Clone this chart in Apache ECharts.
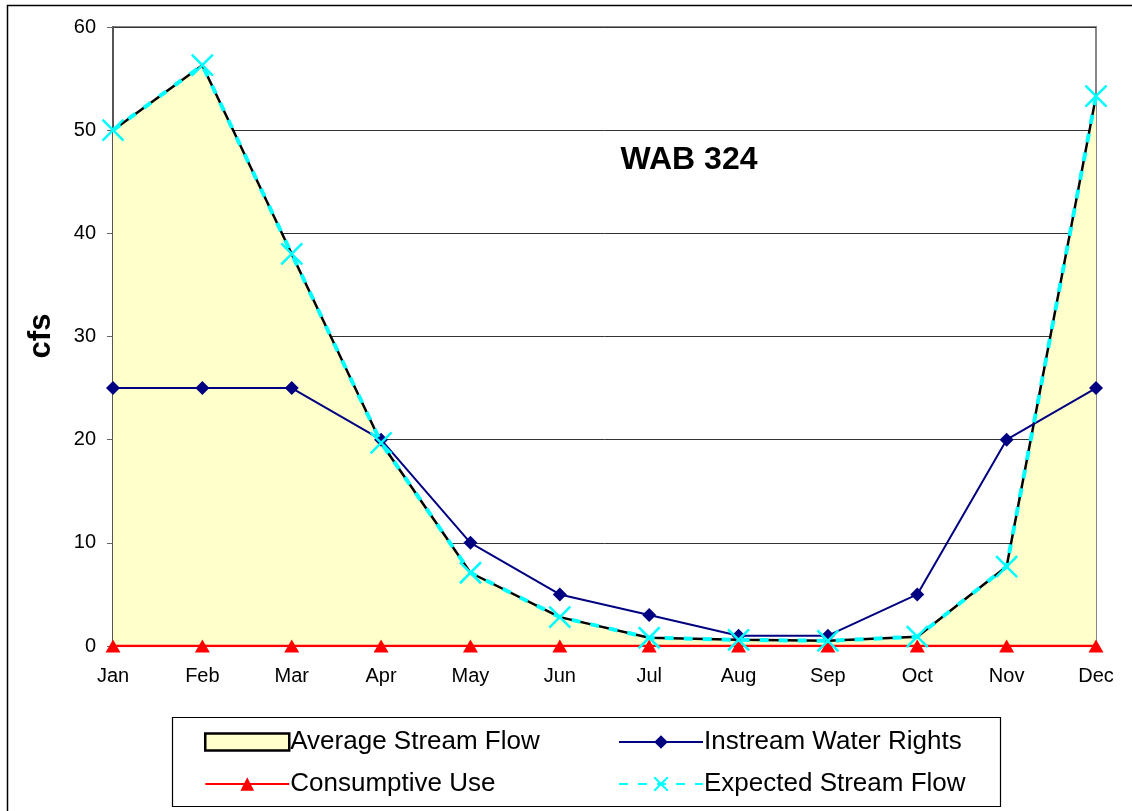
<!DOCTYPE html>
<html>
<head>
<meta charset="utf-8">
<script src="https://cdn.jsdelivr.net/npm/echarts@6/dist/echarts.min.js"></script>
<style>
  html, body { margin: 0; padding: 0; background: #fff; }
  #chart { width: 1132px; height: 811px; }
</style>
</head>
<body>
<div id="chart"></div>
<script>
// Monthly flows for WAB 324 (cfs)
const months = ['Jan', 'Feb', 'Mar', 'Apr', 'May', 'Jun', 'Jul', 'Aug', 'Sep', 'Oct', 'Nov', 'Dec'];
const averageStreamFlow = [50.0, 56.3, 38.0, 19.7, 7.1, 2.8, 0.8, 0.6, 0.5, 0.9, 7.7, 53.3];
const instreamWaterRights = [25, 25, 25, 20, 10, 5, 3, 1, 1, 5, 20, 25];
const consumptiveUse = [0, 0, 0, 0, 0, 0, 0, 0, 0, 0, 0, 0];
const expectedStreamFlow = [50.0, 56.3, 38.0, 19.7, 7.1, 2.8, 0.8, 0.6, 0.5, 0.9, 7.7, 53.3];
const yTicks = { min: 0, max: 60, interval: 10 };

const FONT = 'Liberation Sans, Arial, sans-serif';
const crossSymbol = 'path://M0,0L10,10M10,0L0,10';

const chart = echarts.init(document.getElementById('chart'));

const legendText = { fontFamily: FONT, fontSize: 26, color: '#000', padding: [0, 0, 0, -4] };

chart.setOption({
  backgroundColor: '#ffffff',
  animation: false,
  textStyle: { fontFamily: FONT },
  title: {
    text: 'WAB 324',
    left: 684,
    top: 139,
    textAlign: 'center',
    textStyle: { fontFamily: FONT, fontSize: 32, fontWeight: 'bold', color: '#000' }
  },
  grid: {
    left: 113, right: 36, top: 27, bottom: 165,
    show: true, borderColor: '#888888', borderWidth: 2, backgroundColor: 'transparent'
  },
  graphic: [
    {
      type: 'rect', z: -1, silent: true,
      shape: { x: 7.5, y: 5.5, width: 1140, height: 820 },
      style: { fill: 'none', stroke: '#000', lineWidth: 1.5 }
    },
    {
      type: 'rect', z: 1, silent: true,
      shape: { x: 172.5, y: 717.5, width: 828, height: 89 },
      style: { fill: '#fff', stroke: '#000', lineWidth: 1.2 }
    },
    {
      type: 'text', silent: true,
      x: 41, y: 336, rotation: Math.PI / 2,
      style: {
        text: 'cfs', fontFamily: FONT, fontSize: 31, fontWeight: 'bold',
        fill: '#000', align: 'center', verticalAlign: 'middle'
      }
    }
  ],
  legend: [
    {
      orient: 'vertical', left: 199, top: 724, itemGap: 16,
      itemWidth: 84, itemHeight: 17, z: 5,
      textStyle: legendText,
      data: [
        { name: 'Average Stream Flow', icon: 'rect',
          itemStyle: { color: '#FFFFCC', borderColor: '#000', borderWidth: 2.5 } },
        { name: 'Consumptive Use' }
      ]
    },
    {
      orient: 'vertical', left: 613, top: 724, itemGap: 16,
      itemWidth: 84, itemHeight: 17, z: 5,
      textStyle: legendText,
      data: [{ name: 'Instream Water Rights' }, { name: 'Expected Stream Flow' }]
    }
  ],
  xAxis: {
    type: 'category',
    data: months,
    boundaryGap: false,
    axisLine: { show: true, lineStyle: { color: '#666', width: 1.5 } },
    axisTick: { show: true, length: 5, lineStyle: { color: '#666' } },
    axisLabel: { fontFamily: FONT, fontSize: 20, color: '#000', margin: 20 },
    splitLine: { show: false }
  },
  yAxis: {
    type: 'value',
    min: yTicks.min, max: yTicks.max, interval: yTicks.interval,
    axisLine: { show: true, lineStyle: { color: '#555', width: 2 } },
    axisTick: { show: true, length: 6, lineStyle: { color: '#666' } },
    axisLabel: { fontFamily: FONT, fontSize: 20, color: '#000', margin: 17 },
    splitLine: { show: true, lineStyle: { color: '#333', width: 1 } }
  },
  series: [
    {
      name: 'Average Stream Flow',
      type: 'line',
      data: averageStreamFlow,
      showSymbol: false,
      symbol: 'none',
      lineStyle: { color: '#000', width: 2.5 },
      itemStyle: { color: '#000' },
      areaStyle: { color: '#FFFFCC', opacity: 1 },
      z: 2
    },
    {
      name: 'Instream Water Rights',
      type: 'line',
      data: instreamWaterRights,
      symbol: 'diamond',
      symbolSize: 14,
      lineStyle: { color: '#000080', width: 2 },
      itemStyle: { color: '#000080' },
      z: 3
    },
    {
      name: 'Consumptive Use',
      type: 'line',
      data: consumptiveUse,
      symbol: 'triangle',
      symbolSize: [15, 13],
      lineStyle: { color: '#FF0000', width: 2.5 },
      itemStyle: { color: '#FF0000' },
      z: 4
    },
    {
      name: 'Expected Stream Flow',
      type: 'line',
      data: expectedStreamFlow,
      symbol: crossSymbol,
      symbolSize: 21,
      lineStyle: { color: '#00FFFF', width: 4, type: [9, 10] },
      itemStyle: { color: 'none', borderColor: '#00FFFF', borderWidth: 2.5 },
      z: 5
    }
  ]
});
</script>
</body>
</html>
